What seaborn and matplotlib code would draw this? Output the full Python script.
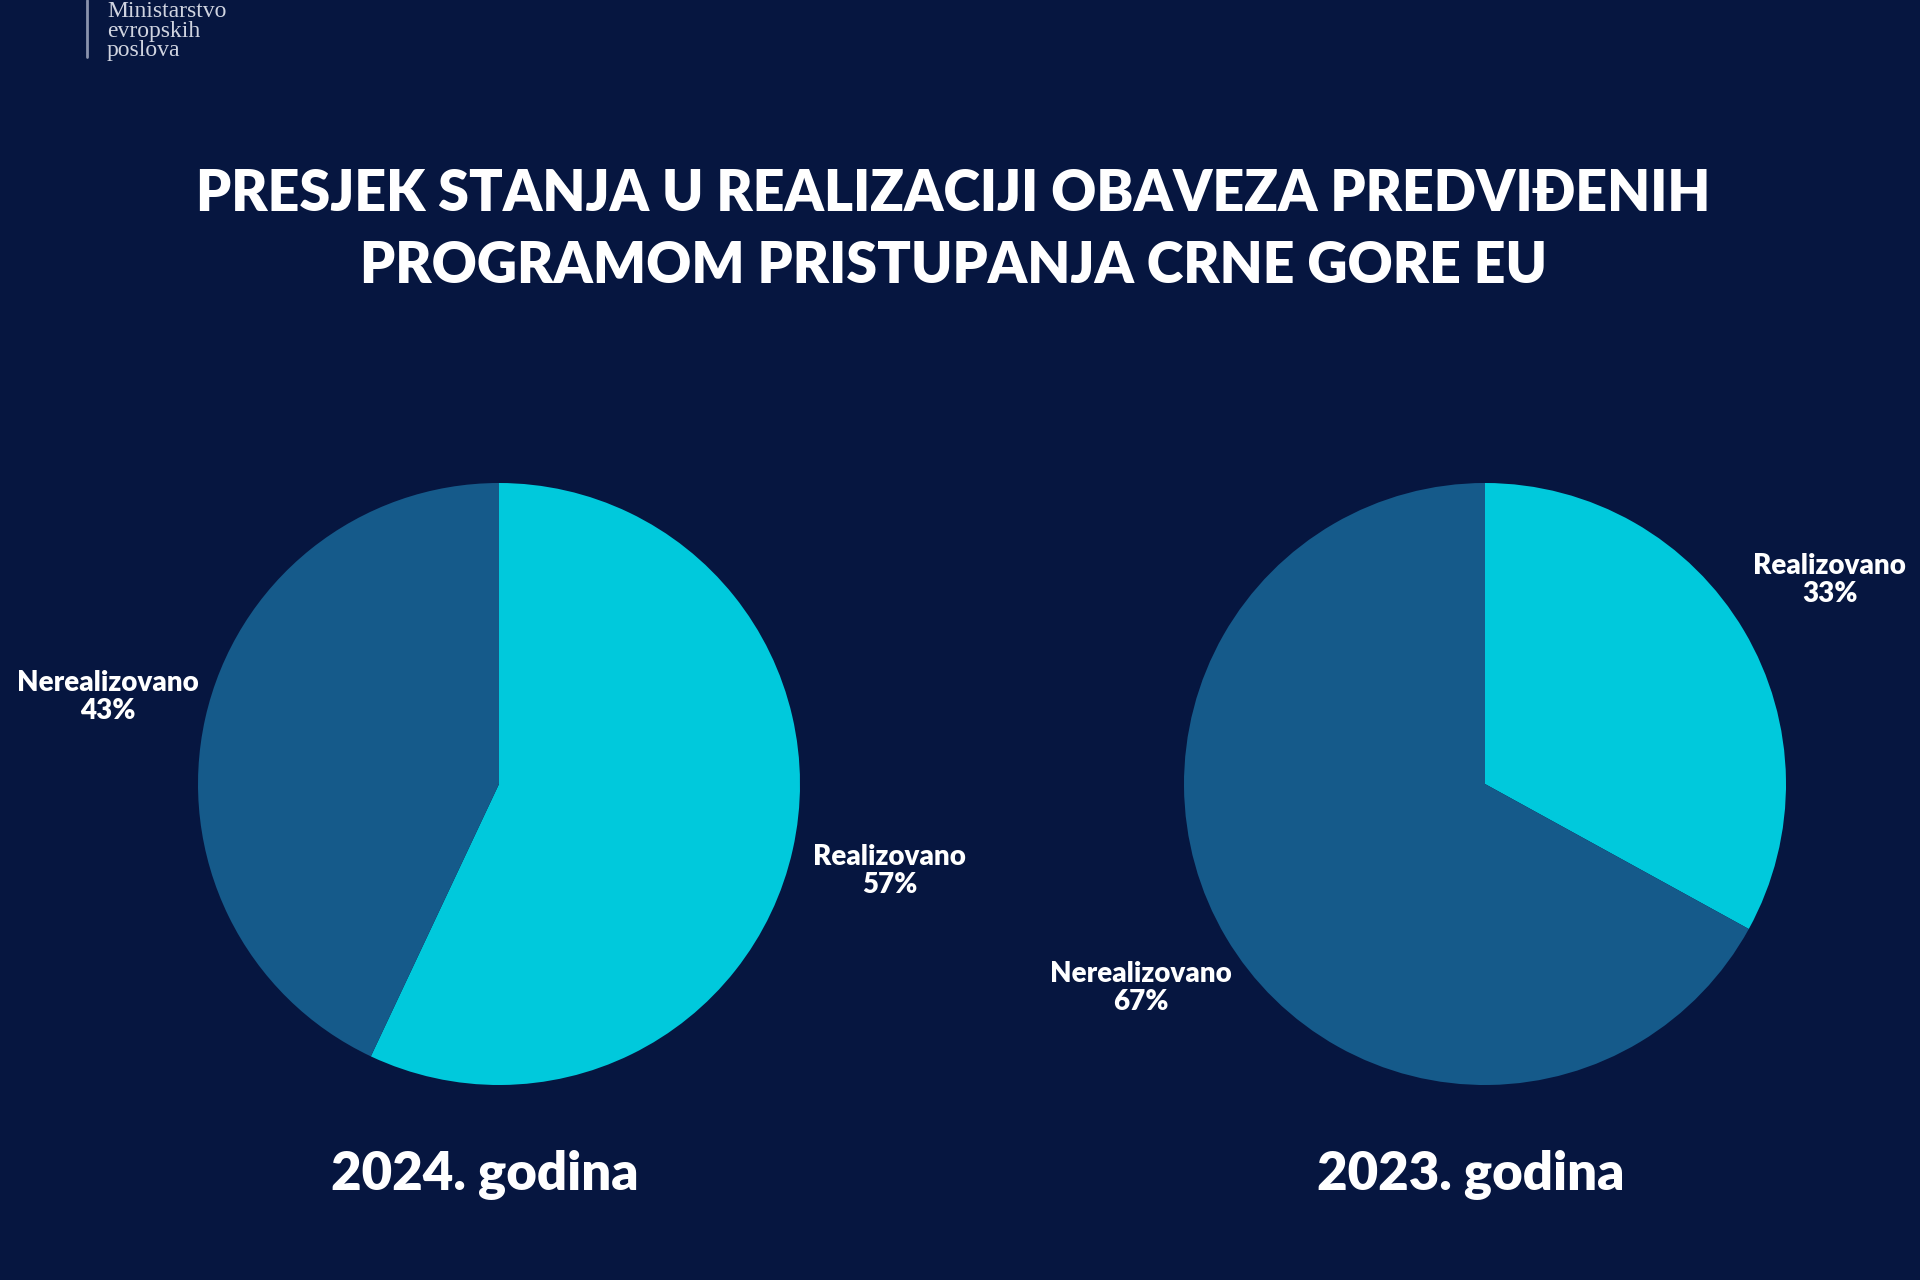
import matplotlib
matplotlib.use("Agg")
import matplotlib.pyplot as plt
import seaborn as sns

# ---- data ----
categories = ["Realizovano", "Nerealizovano"]
values_2024 = [57, 43]
values_2023 = [33, 67]
years = ["2024. godina", "2023. godina"]
title = "PRESJEK STANJA U REALIZACIJI OBAVEZA PREDVIĐENIH\nPROGRAMOM PRISTUPANJA CRNE GORE EU"
logo_lines = "Ministarstvo\nevropskih\nposlova"

BG = "#061640"
colors = ["#00C9DC", "#155A8A"]

sns.set_theme(style="dark", rc={"figure.facecolor": BG, "axes.facecolor": BG})
plt.rcParams["font.family"] = ["Lato", "DejaVu Sans"]

fig = plt.figure(figsize=(19.2, 12.8), dpi=100)
fig.patch.set_facecolor(BG)

W, H = 1920, 1280
r = 301
centers = [(499, 784), (1485, 784)]
datasets = [values_2024, values_2023]

for (cx, cy), vals, yr in zip(centers, datasets, years):
    ax = fig.add_axes([(cx - r) / W, 1 - (cy + r) / H, 2 * r / W, 2 * r / H])
    ax.set_facecolor(BG)
    labels = [f"{c}\n{v}%" for c, v in zip(categories, vals)]
    wedges, texts = ax.pie(vals, colors=colors, startangle=90, counterclock=False,
                           labels=labels, labeldistance=1.33,
                           wedgeprops=dict(linewidth=0),
                           textprops=dict(color="white", fontsize=20, fontweight="heavy",
                                          linespacing=1.1))
    for t in texts:
        t.set_horizontalalignment("center")
        t.set_verticalalignment("center")
        t.set_multialignment("center")
    ax.set_xlim(-1, 1)
    ax.set_ylim(-1, 1)
    ax.set_aspect("equal")
    ax.axis("off")
    fig.text((cx - 14) / W, 1 - 1175 / H, yr, color="white", fontsize=38,
             fontweight="heavy", ha="center", va="center")

fig.text(953 / W, 1 - 230 / H, title, color="white", fontsize=40, fontweight="heavy",
         ha="center", va="center", linespacing=1.47)

# logo
fig.add_artist(plt.Line2D([87 / W, 87 / W], [1.0, 1 - 57 / H], color="#8a93ad", lw=2))
fig.text(107 / W, 1 - 1 / H, logo_lines, color="#d0d4e0", fontsize=17,
         family=["Liberation Serif", "DejaVu Serif"], ha="left", va="top", linespacing=0.92)

fig.savefig("out.png", dpi=100, facecolor=BG)
